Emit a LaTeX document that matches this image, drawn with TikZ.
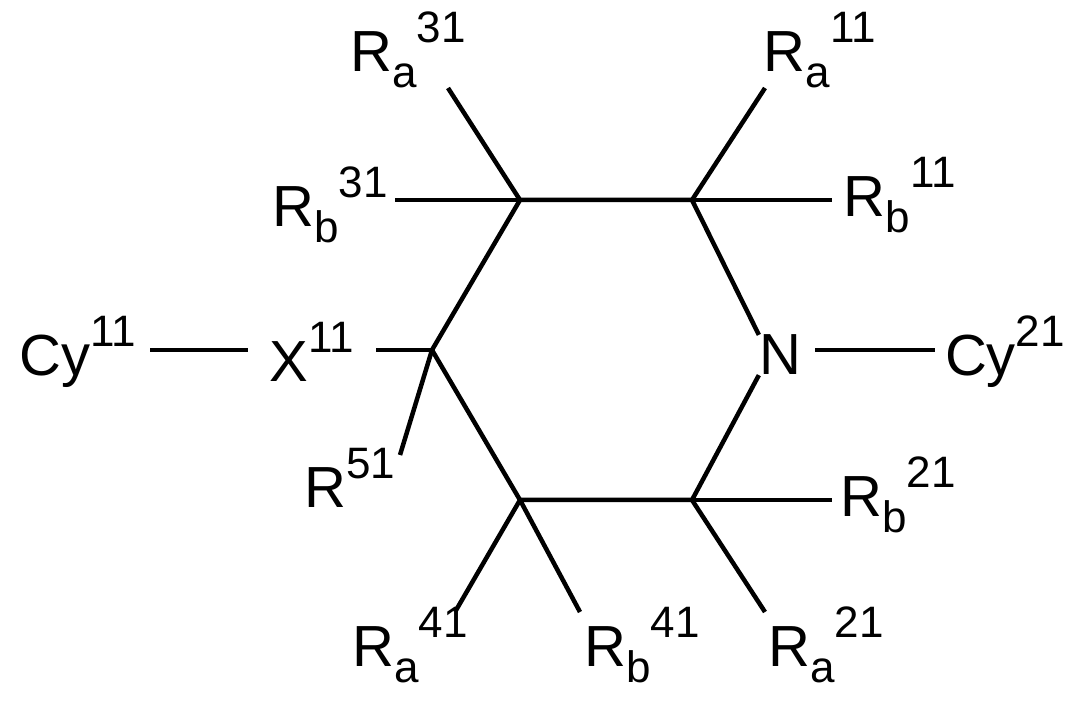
\documentclass[tikz,border=0pt]{standalone}
\usepackage{fontspec}
\setmainfont{Liberation Sans}
\newcommand{\lab}[3]{#1\raisebox{-0.28em}{\fontsize{44}{44}\selectfont #2}\raisebox{0.5em}{\fontsize{44}{44}\selectfont #3}}
\newcommand{\labs}[2]{#1\raisebox{0.5em}{\fontsize{44}{44}\selectfont #2}}
\begin{document}
\begin{tikzpicture}[x=1pt,y=-1pt,
  bond/.style={line width=4.5pt},
  txt/.style={font=\fontsize{58}{58}\selectfont, inner sep=0pt}]
\useasboundingbox (0,0) rectangle (1080,708);
\coordinate (C3) at (520,200);
\coordinate (C2) at (692,200);
\node[txt] (N) at (780,355) {N};
\coordinate (C6) at (692,500);
\coordinate (C5) at (520,500);
\coordinate (C4) at (432,350);
\draw[bond] (C4) -- (C3) -- (C2) -- (N.north west);
\draw[bond] (N.south west) -- (C6) -- (C5) -- (C4);
\node[txt] (Ra11) at (820,50) {\lab{R}{a}{11}};
\node[txt] (Rb11) at (900,195) {\lab{R}{b}{11}};
\node[txt] (Ra31) at (408,50) {\lab{R}{a}{31}};
\node[txt] (Rb31) at (330,205) {\lab{R}{b}{31}};
\node[txt] (X) at (312,352) {\labs{X}{11}};
\node[txt] (Cy11) at (78,352) {\labs{Cy}{11}};
\node[txt] (R51) at (350,478) {\labs{R}{51}};
\node[txt] (Cy21) at (1005,352) {\labs{Cy}{21}};
\node[txt] (Rb21) at (898,495) {\lab{R}{b}{21}};
\node[txt] (Ra21) at (826,645) {\lab{R}{a}{21}};
\node[txt] (Ra41) at (410,645) {\lab{R}{a}{41}};
\node[txt] (Rb41) at (642,645) {\lab{R}{b}{41}};
\coordinate (e11a) at (765,88);
\coordinate (e11b) at (832,200);
\coordinate (e31a) at (448,88);
\coordinate (e31b) at (395,200);
\coordinate (ex) at (376,350);
\coordinate (cyx1) at (150,350);
\coordinate (cyx2) at (248,350);
\coordinate (e51) at (400,455);
\coordinate (n1) at (815,350);
\coordinate (n2) at (935,350);
\coordinate (e21b) at (832,500);
\coordinate (e21a) at (765,612);
\coordinate (e41a) at (455,612);
\coordinate (e41b) at (580,612);
\draw[bond] (C2) -- (e11a);
\draw[bond] (C2) -- (e11b);
\draw[bond] (C3) -- (e31a);
\draw[bond] (C3) -- (e31b);
\draw[bond] (C4) -- (ex);
\draw[bond] (cyx1) -- (cyx2);
\draw[bond] (C4) -- (e51);
\draw[bond] (n1) -- (n2);
\draw[bond] (C6) -- (e21b);
\draw[bond] (C6) -- (e21a);
\draw[bond] (C5) -- (e41a);
\draw[bond] (C5) -- (e41b);
\end{tikzpicture}
\end{document}
